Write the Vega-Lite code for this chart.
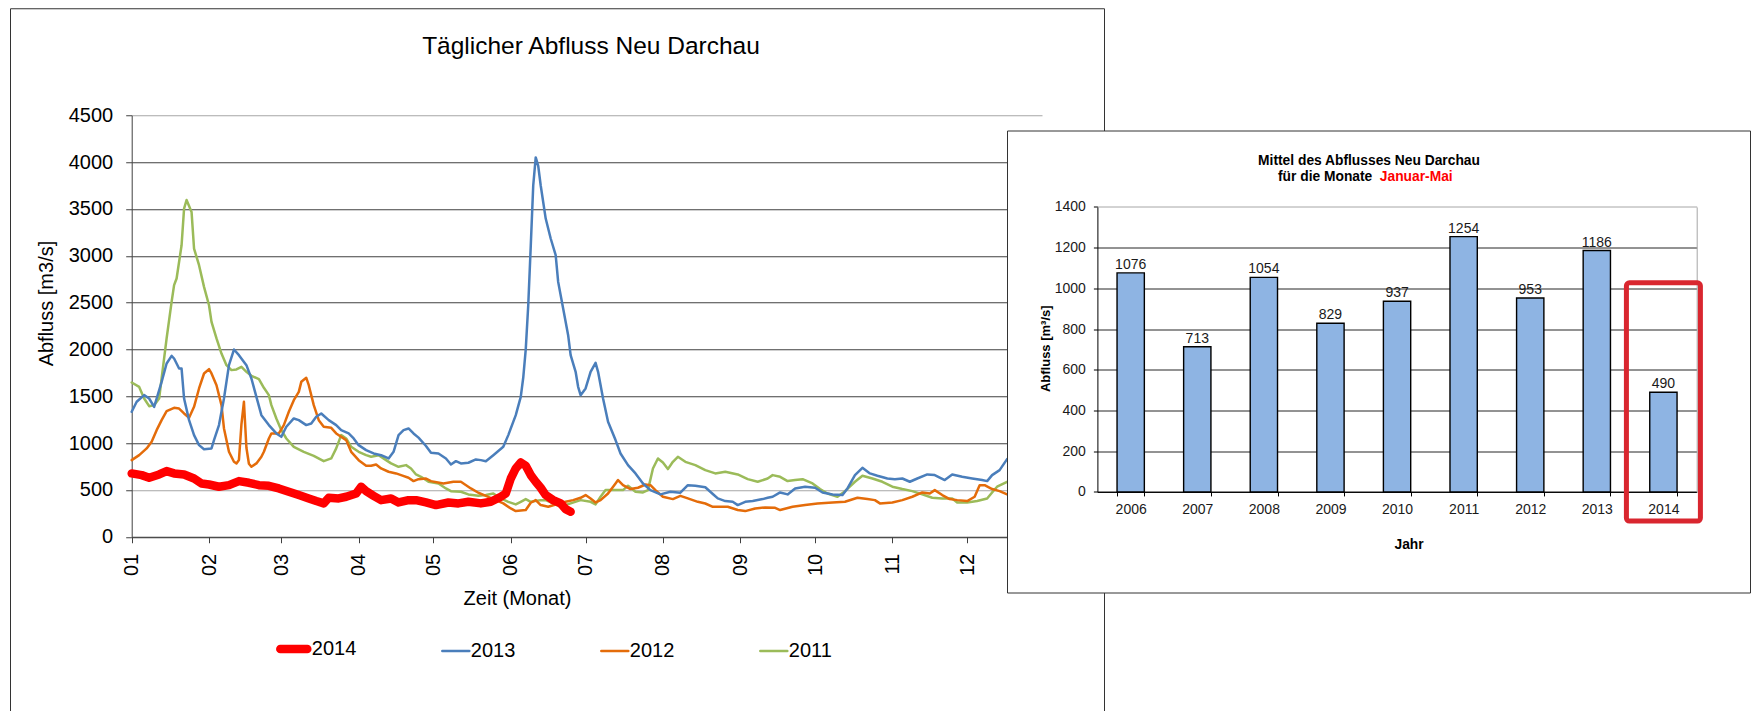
{
  "$schema": "https://vega.github.io/schema/vega-lite/v6.json",
  "background": "white",
  "padding": {"left": 9, "top": 7, "right": 0, "bottom": -4},
  "spacing": -97,
  "bounds": "flush",
  "align": {"row": "each", "column": "none"},
  "center": true,
  "config": {
    "font": "Liberation Sans",
    "view": {"stroke": "#333333", "strokeWidth": 1, "fill": "white"},
    "axis": {"labelColor": "#000000", "titleColor": "#000000", "labelOverlap": false, "labelFlush": false}
  },
  "datasets": {
    "abfluss": [
      {"Jahr":"2011","Tag":1,"Abfluss":1647},{"Jahr":"2011","Tag":4,"Abfluss":1600},{"Jahr":"2011","Tag":6,"Abfluss":1476},{"Jahr":"2011","Tag":8,"Abfluss":1394},{"Jahr":"2011","Tag":10,"Abfluss":1405},{"Jahr":"2011","Tag":12,"Abfluss":1476},{"Jahr":"2011","Tag":13,"Abfluss":1690},{"Jahr":"2011","Tag":15,"Abfluss":2117},{"Jahr":"2011","Tag":17,"Abfluss":2508},{"Jahr":"2011","Tag":18,"Abfluss":2686},{"Jahr":"2011","Tag":19,"Abfluss":2757},{"Jahr":"2011","Tag":21,"Abfluss":3112},{"Jahr":"2011","Tag":22,"Abfluss":3504},{"Jahr":"2011","Tag":23,"Abfluss":3595},{"Jahr":"2011","Tag":25,"Abfluss":3468},{"Jahr":"2011","Tag":26,"Abfluss":3077},{"Jahr":"2011","Tag":28,"Abfluss":2899},{"Jahr":"2011","Tag":30,"Abfluss":2668},{"Jahr":"2011","Tag":32,"Abfluss":2472},{"Jahr":"2011","Tag":33,"Abfluss":2294},{"Jahr":"2011","Tag":35,"Abfluss":2117},{"Jahr":"2011","Tag":37,"Abfluss":1956},{"Jahr":"2011","Tag":39,"Abfluss":1832},{"Jahr":"2011","Tag":41,"Abfluss":1779},{"Jahr":"2011","Tag":43,"Abfluss":1786},{"Jahr":"2011","Tag":45,"Abfluss":1814},{"Jahr":"2011","Tag":47,"Abfluss":1761},{"Jahr":"2011","Tag":49,"Abfluss":1718},{"Jahr":"2011","Tag":52,"Abfluss":1683},{"Jahr":"2011","Tag":54,"Abfluss":1590},{"Jahr":"2011","Tag":56,"Abfluss":1512},{"Jahr":"2011","Tag":57,"Abfluss":1405},{"Jahr":"2011","Tag":59,"Abfluss":1263},{"Jahr":"2011","Tag":61,"Abfluss":1138},{"Jahr":"2011","Tag":63,"Abfluss":1049},{"Jahr":"2011","Tag":66,"Abfluss":960},{"Jahr":"2011","Tag":70,"Abfluss":907},{"Jahr":"2011","Tag":74,"Abfluss":864},{"Jahr":"2011","Tag":78,"Abfluss":807},{"Jahr":"2011","Tag":81,"Abfluss":836},{"Jahr":"2011","Tag":83,"Abfluss":943},{"Jahr":"2011","Tag":85,"Abfluss":1085},{"Jahr":"2011","Tag":87,"Abfluss":1049},{"Jahr":"2011","Tag":89,"Abfluss":960},{"Jahr":"2011","Tag":92,"Abfluss":907},{"Jahr":"2011","Tag":95,"Abfluss":871},{"Jahr":"2011","Tag":97,"Abfluss":854},{"Jahr":"2011","Tag":100,"Abfluss":871},{"Jahr":"2011","Tag":103,"Abfluss":818},{"Jahr":"2011","Tag":105,"Abfluss":783},{"Jahr":"2011","Tag":108,"Abfluss":747},{"Jahr":"2011","Tag":111,"Abfluss":765},{"Jahr":"2011","Tag":113,"Abfluss":729},{"Jahr":"2011","Tag":115,"Abfluss":665},{"Jahr":"2011","Tag":117,"Abfluss":640},{"Jahr":"2011","Tag":120,"Abfluss":587},{"Jahr":"2011","Tag":124,"Abfluss":569},{"Jahr":"2011","Tag":127,"Abfluss":516},{"Jahr":"2011","Tag":129,"Abfluss":487},{"Jahr":"2011","Tag":133,"Abfluss":480},{"Jahr":"2011","Tag":136,"Abfluss":452},{"Jahr":"2011","Tag":140,"Abfluss":437},{"Jahr":"2011","Tag":143,"Abfluss":445},{"Jahr":"2011","Tag":146,"Abfluss":462},{"Jahr":"2011","Tag":149,"Abfluss":409},{"Jahr":"2011","Tag":152,"Abfluss":373},{"Jahr":"2011","Tag":155,"Abfluss":345},{"Jahr":"2011","Tag":157,"Abfluss":373},{"Jahr":"2011","Tag":159,"Abfluss":402},{"Jahr":"2011","Tag":161,"Abfluss":373},{"Jahr":"2011","Tag":165,"Abfluss":391},{"Jahr":"2011","Tag":167,"Abfluss":391},{"Jahr":"2011","Tag":170,"Abfluss":356},{"Jahr":"2011","Tag":173,"Abfluss":320},{"Jahr":"2011","Tag":177,"Abfluss":356},{"Jahr":"2011","Tag":181,"Abfluss":391},{"Jahr":"2011","Tag":185,"Abfluss":373},{"Jahr":"2011","Tag":187,"Abfluss":345},{"Jahr":"2011","Tag":189,"Abfluss":427},{"Jahr":"2011","Tag":191,"Abfluss":498},{"Jahr":"2011","Tag":195,"Abfluss":498},{"Jahr":"2011","Tag":198,"Abfluss":498},{"Jahr":"2011","Tag":200,"Abfluss":544},{"Jahr":"2011","Tag":203,"Abfluss":480},{"Jahr":"2011","Tag":206,"Abfluss":473},{"Jahr":"2011","Tag":208,"Abfluss":498},{"Jahr":"2011","Tag":210,"Abfluss":729},{"Jahr":"2011","Tag":212,"Abfluss":836},{"Jahr":"2011","Tag":214,"Abfluss":793},{"Jahr":"2011","Tag":216,"Abfluss":722},{"Jahr":"2011","Tag":218,"Abfluss":800},{"Jahr":"2011","Tag":220,"Abfluss":854},{"Jahr":"2011","Tag":223,"Abfluss":800},{"Jahr":"2011","Tag":227,"Abfluss":765},{"Jahr":"2011","Tag":231,"Abfluss":711},{"Jahr":"2011","Tag":235,"Abfluss":676},{"Jahr":"2011","Tag":239,"Abfluss":694},{"Jahr":"2011","Tag":244,"Abfluss":665},{"Jahr":"2011","Tag":248,"Abfluss":615},{"Jahr":"2011","Tag":252,"Abfluss":587},{"Jahr":"2011","Tag":256,"Abfluss":622},{"Jahr":"2011","Tag":258,"Abfluss":658},{"Jahr":"2011","Tag":261,"Abfluss":640},{"Jahr":"2011","Tag":264,"Abfluss":594},{"Jahr":"2011","Tag":267,"Abfluss":605},{"Jahr":"2011","Tag":270,"Abfluss":615},{"Jahr":"2011","Tag":274,"Abfluss":569},{"Jahr":"2011","Tag":277,"Abfluss":509},{"Jahr":"2011","Tag":280,"Abfluss":462},{"Jahr":"2011","Tag":284,"Abfluss":427},{"Jahr":"2011","Tag":287,"Abfluss":487},{"Jahr":"2011","Tag":291,"Abfluss":587},{"Jahr":"2011","Tag":294,"Abfluss":651},{"Jahr":"2011","Tag":298,"Abfluss":622},{"Jahr":"2011","Tag":302,"Abfluss":587},{"Jahr":"2011","Tag":306,"Abfluss":534},{"Jahr":"2011","Tag":310,"Abfluss":509},{"Jahr":"2011","Tag":314,"Abfluss":487},{"Jahr":"2011","Tag":318,"Abfluss":452},{"Jahr":"2011","Tag":322,"Abfluss":416},{"Jahr":"2011","Tag":326,"Abfluss":409},{"Jahr":"2011","Tag":330,"Abfluss":409},{"Jahr":"2011","Tag":332,"Abfluss":366},{"Jahr":"2011","Tag":336,"Abfluss":366},{"Jahr":"2011","Tag":340,"Abfluss":381},{"Jahr":"2011","Tag":344,"Abfluss":409},{"Jahr":"2011","Tag":346,"Abfluss":473},{"Jahr":"2011","Tag":348,"Abfluss":534},{"Jahr":"2011","Tag":352,"Abfluss":587},
      {"Jahr":"2012","Tag":1,"Abfluss":818},{"Jahr":"2012","Tag":4,"Abfluss":871},{"Jahr":"2012","Tag":7,"Abfluss":943},{"Jahr":"2012","Tag":9,"Abfluss":1014},{"Jahr":"2012","Tag":11,"Abfluss":1138},{"Jahr":"2012","Tag":13,"Abfluss":1245},{"Jahr":"2012","Tag":15,"Abfluss":1341},{"Jahr":"2012","Tag":18,"Abfluss":1377},{"Jahr":"2012","Tag":20,"Abfluss":1369},{"Jahr":"2012","Tag":22,"Abfluss":1316},{"Jahr":"2012","Tag":24,"Abfluss":1270},{"Jahr":"2012","Tag":26,"Abfluss":1387},{"Jahr":"2012","Tag":28,"Abfluss":1583},{"Jahr":"2012","Tag":30,"Abfluss":1743},{"Jahr":"2012","Tag":32,"Abfluss":1789},{"Jahr":"2012","Tag":33,"Abfluss":1743},{"Jahr":"2012","Tag":35,"Abfluss":1618},{"Jahr":"2012","Tag":37,"Abfluss":1405},{"Jahr":"2012","Tag":38,"Abfluss":1156},{"Jahr":"2012","Tag":40,"Abfluss":907},{"Jahr":"2012","Tag":42,"Abfluss":800},{"Jahr":"2012","Tag":43,"Abfluss":783},{"Jahr":"2012","Tag":44,"Abfluss":820},{"Jahr":"2012","Tag":45,"Abfluss":1200},{"Jahr":"2012","Tag":46,"Abfluss":1441},{"Jahr":"2012","Tag":47,"Abfluss":950},{"Jahr":"2012","Tag":48,"Abfluss":780},{"Jahr":"2012","Tag":49,"Abfluss":747},{"Jahr":"2012","Tag":51,"Abfluss":783},{"Jahr":"2012","Tag":53,"Abfluss":854},{"Jahr":"2012","Tag":54,"Abfluss":907},{"Jahr":"2012","Tag":56,"Abfluss":1049},{"Jahr":"2012","Tag":57,"Abfluss":1103},{"Jahr":"2012","Tag":60,"Abfluss":1103},{"Jahr":"2012","Tag":62,"Abfluss":1192},{"Jahr":"2012","Tag":64,"Abfluss":1334},{"Jahr":"2012","Tag":66,"Abfluss":1458},{"Jahr":"2012","Tag":68,"Abfluss":1547},{"Jahr":"2012","Tag":69,"Abfluss":1654},{"Jahr":"2012","Tag":71,"Abfluss":1697},{"Jahr":"2012","Tag":72,"Abfluss":1618},{"Jahr":"2012","Tag":74,"Abfluss":1405},{"Jahr":"2012","Tag":76,"Abfluss":1245},{"Jahr":"2012","Tag":78,"Abfluss":1174},{"Jahr":"2012","Tag":81,"Abfluss":1163},{"Jahr":"2012","Tag":83,"Abfluss":1103},{"Jahr":"2012","Tag":87,"Abfluss":1032},{"Jahr":"2012","Tag":89,"Abfluss":907},{"Jahr":"2012","Tag":92,"Abfluss":818},{"Jahr":"2012","Tag":95,"Abfluss":758},{"Jahr":"2012","Tag":97,"Abfluss":758},{"Jahr":"2012","Tag":99,"Abfluss":772},{"Jahr":"2012","Tag":101,"Abfluss":729},{"Jahr":"2012","Tag":104,"Abfluss":694},{"Jahr":"2012","Tag":107,"Abfluss":676},{"Jahr":"2012","Tag":109,"Abfluss":658},{"Jahr":"2012","Tag":112,"Abfluss":630},{"Jahr":"2012","Tag":114,"Abfluss":594},{"Jahr":"2012","Tag":116,"Abfluss":615},{"Jahr":"2012","Tag":119,"Abfluss":622},{"Jahr":"2012","Tag":121,"Abfluss":594},{"Jahr":"2012","Tag":126,"Abfluss":569},{"Jahr":"2012","Tag":130,"Abfluss":587},{"Jahr":"2012","Tag":133,"Abfluss":587},{"Jahr":"2012","Tag":137,"Abfluss":516},{"Jahr":"2012","Tag":140,"Abfluss":470},{"Jahr":"2012","Tag":143,"Abfluss":437},{"Jahr":"2012","Tag":147,"Abfluss":391},{"Jahr":"2012","Tag":150,"Abfluss":356},{"Jahr":"2012","Tag":153,"Abfluss":302},{"Jahr":"2012","Tag":155,"Abfluss":274},{"Jahr":"2012","Tag":159,"Abfluss":285},{"Jahr":"2012","Tag":161,"Abfluss":363},{"Jahr":"2012","Tag":163,"Abfluss":391},{"Jahr":"2012","Tag":165,"Abfluss":338},{"Jahr":"2012","Tag":168,"Abfluss":320},{"Jahr":"2012","Tag":171,"Abfluss":345},{"Jahr":"2012","Tag":175,"Abfluss":373},{"Jahr":"2012","Tag":178,"Abfluss":391},{"Jahr":"2012","Tag":181,"Abfluss":416},{"Jahr":"2012","Tag":183,"Abfluss":445},{"Jahr":"2012","Tag":185,"Abfluss":409},{"Jahr":"2012","Tag":187,"Abfluss":366},{"Jahr":"2012","Tag":189,"Abfluss":391},{"Jahr":"2012","Tag":192,"Abfluss":462},{"Jahr":"2012","Tag":195,"Abfluss":569},{"Jahr":"2012","Tag":196,"Abfluss":605},{"Jahr":"2012","Tag":198,"Abfluss":551},{"Jahr":"2012","Tag":201,"Abfluss":509},{"Jahr":"2012","Tag":204,"Abfluss":523},{"Jahr":"2012","Tag":207,"Abfluss":558},{"Jahr":"2012","Tag":209,"Abfluss":551},{"Jahr":"2012","Tag":211,"Abfluss":498},{"Jahr":"2012","Tag":214,"Abfluss":427},{"Jahr":"2012","Tag":218,"Abfluss":402},{"Jahr":"2012","Tag":221,"Abfluss":437},{"Jahr":"2012","Tag":224,"Abfluss":409},{"Jahr":"2012","Tag":228,"Abfluss":373},{"Jahr":"2012","Tag":231,"Abfluss":355},{"Jahr":"2012","Tag":234,"Abfluss":320},{"Jahr":"2012","Tag":237,"Abfluss":320},{"Jahr":"2012","Tag":240,"Abfluss":320},{"Jahr":"2012","Tag":244,"Abfluss":285},{"Jahr":"2012","Tag":247,"Abfluss":274},{"Jahr":"2012","Tag":251,"Abfluss":302},{"Jahr":"2012","Tag":255,"Abfluss":313},{"Jahr":"2012","Tag":259,"Abfluss":309},{"Jahr":"2012","Tag":261,"Abfluss":285},{"Jahr":"2012","Tag":266,"Abfluss":320},{"Jahr":"2012","Tag":271,"Abfluss":338},{"Jahr":"2012","Tag":276,"Abfluss":356},{"Jahr":"2012","Tag":282,"Abfluss":366},{"Jahr":"2012","Tag":287,"Abfluss":373},{"Jahr":"2012","Tag":292,"Abfluss":416},{"Jahr":"2012","Tag":296,"Abfluss":402},{"Jahr":"2012","Tag":299,"Abfluss":391},{"Jahr":"2012","Tag":301,"Abfluss":356},{"Jahr":"2012","Tag":306,"Abfluss":366},{"Jahr":"2012","Tag":310,"Abfluss":391},{"Jahr":"2012","Tag":314,"Abfluss":427},{"Jahr":"2012","Tag":318,"Abfluss":473},{"Jahr":"2012","Tag":321,"Abfluss":462},{"Jahr":"2012","Tag":323,"Abfluss":498},{"Jahr":"2012","Tag":326,"Abfluss":445},{"Jahr":"2012","Tag":329,"Abfluss":402},{"Jahr":"2012","Tag":332,"Abfluss":391},{"Jahr":"2012","Tag":336,"Abfluss":381},{"Jahr":"2012","Tag":339,"Abfluss":427},{"Jahr":"2012","Tag":341,"Abfluss":551},{"Jahr":"2012","Tag":343,"Abfluss":551},{"Jahr":"2012","Tag":346,"Abfluss":509},{"Jahr":"2012","Tag":349,"Abfluss":487},{"Jahr":"2012","Tag":352,"Abfluss":452},
      {"Jahr":"2013","Tag":1,"Abfluss":1334},{"Jahr":"2013","Tag":3,"Abfluss":1441},{"Jahr":"2013","Tag":6,"Abfluss":1512},{"Jahr":"2013","Tag":8,"Abfluss":1476},{"Jahr":"2013","Tag":10,"Abfluss":1387},{"Jahr":"2013","Tag":11,"Abfluss":1476},{"Jahr":"2013","Tag":13,"Abfluss":1654},{"Jahr":"2013","Tag":15,"Abfluss":1850},{"Jahr":"2013","Tag":17,"Abfluss":1931},{"Jahr":"2013","Tag":18,"Abfluss":1903},{"Jahr":"2013","Tag":20,"Abfluss":1796},{"Jahr":"2013","Tag":21,"Abfluss":1796},{"Jahr":"2013","Tag":22,"Abfluss":1476},{"Jahr":"2013","Tag":24,"Abfluss":1245},{"Jahr":"2013","Tag":26,"Abfluss":1085},{"Jahr":"2013","Tag":28,"Abfluss":978},{"Jahr":"2013","Tag":30,"Abfluss":935},{"Jahr":"2013","Tag":33,"Abfluss":943},{"Jahr":"2013","Tag":34,"Abfluss":1032},{"Jahr":"2013","Tag":36,"Abfluss":1192},{"Jahr":"2013","Tag":38,"Abfluss":1476},{"Jahr":"2013","Tag":40,"Abfluss":1832},{"Jahr":"2013","Tag":42,"Abfluss":1999},{"Jahr":"2013","Tag":44,"Abfluss":1939},{"Jahr":"2013","Tag":47,"Abfluss":1832},{"Jahr":"2013","Tag":49,"Abfluss":1690},{"Jahr":"2013","Tag":51,"Abfluss":1494},{"Jahr":"2013","Tag":53,"Abfluss":1298},{"Jahr":"2013","Tag":56,"Abfluss":1192},{"Jahr":"2013","Tag":59,"Abfluss":1103},{"Jahr":"2013","Tag":61,"Abfluss":1067},{"Jahr":"2013","Tag":63,"Abfluss":1174},{"Jahr":"2013","Tag":66,"Abfluss":1263},{"Jahr":"2013","Tag":68,"Abfluss":1245},{"Jahr":"2013","Tag":71,"Abfluss":1192},{"Jahr":"2013","Tag":73,"Abfluss":1209},{"Jahr":"2013","Tag":75,"Abfluss":1281},{"Jahr":"2013","Tag":77,"Abfluss":1316},{"Jahr":"2013","Tag":80,"Abfluss":1245},{"Jahr":"2013","Tag":83,"Abfluss":1192},{"Jahr":"2013","Tag":85,"Abfluss":1138},{"Jahr":"2013","Tag":88,"Abfluss":1103},{"Jahr":"2013","Tag":90,"Abfluss":1049},{"Jahr":"2013","Tag":92,"Abfluss":978},{"Jahr":"2013","Tag":95,"Abfluss":925},{"Jahr":"2013","Tag":98,"Abfluss":889},{"Jahr":"2013","Tag":101,"Abfluss":871},{"Jahr":"2013","Tag":104,"Abfluss":836},{"Jahr":"2013","Tag":106,"Abfluss":907},{"Jahr":"2013","Tag":108,"Abfluss":1085},{"Jahr":"2013","Tag":110,"Abfluss":1138},{"Jahr":"2013","Tag":112,"Abfluss":1156},{"Jahr":"2013","Tag":114,"Abfluss":1103},{"Jahr":"2013","Tag":116,"Abfluss":1058},{"Jahr":"2013","Tag":119,"Abfluss":969},{"Jahr":"2013","Tag":121,"Abfluss":896},{"Jahr":"2013","Tag":124,"Abfluss":889},{"Jahr":"2013","Tag":127,"Abfluss":836},{"Jahr":"2013","Tag":129,"Abfluss":772},{"Jahr":"2013","Tag":131,"Abfluss":807},{"Jahr":"2013","Tag":133,"Abfluss":783},{"Jahr":"2013","Tag":136,"Abfluss":790},{"Jahr":"2013","Tag":139,"Abfluss":825},{"Jahr":"2013","Tag":141,"Abfluss":818},{"Jahr":"2013","Tag":143,"Abfluss":807},{"Jahr":"2013","Tag":146,"Abfluss":871},{"Jahr":"2013","Tag":150,"Abfluss":960},{"Jahr":"2013","Tag":152,"Abfluss":1085},{"Jahr":"2013","Tag":155,"Abfluss":1298},{"Jahr":"2013","Tag":157,"Abfluss":1494},{"Jahr":"2013","Tag":158,"Abfluss":1700},{"Jahr":"2013","Tag":159,"Abfluss":2000},{"Jahr":"2013","Tag":160,"Abfluss":2472},{"Jahr":"2013","Tag":161,"Abfluss":3100},{"Jahr":"2013","Tag":162,"Abfluss":3750},{"Jahr":"2013","Tag":163,"Abfluss":4050},{"Jahr":"2013","Tag":164,"Abfluss":3960},{"Jahr":"2013","Tag":165,"Abfluss":3750},{"Jahr":"2013","Tag":167,"Abfluss":3397},{"Jahr":"2013","Tag":169,"Abfluss":3184},{"Jahr":"2013","Tag":171,"Abfluss":3006},{"Jahr":"2013","Tag":172,"Abfluss":2721},{"Jahr":"2013","Tag":174,"Abfluss":2437},{"Jahr":"2013","Tag":176,"Abfluss":2152},{"Jahr":"2013","Tag":177,"Abfluss":1939},{"Jahr":"2013","Tag":179,"Abfluss":1761},{"Jahr":"2013","Tag":180,"Abfluss":1601},{"Jahr":"2013","Tag":181,"Abfluss":1512},{"Jahr":"2013","Tag":183,"Abfluss":1583},{"Jahr":"2013","Tag":185,"Abfluss":1761},{"Jahr":"2013","Tag":187,"Abfluss":1857},{"Jahr":"2013","Tag":188,"Abfluss":1761},{"Jahr":"2013","Tag":190,"Abfluss":1476},{"Jahr":"2013","Tag":192,"Abfluss":1227},{"Jahr":"2013","Tag":195,"Abfluss":1032},{"Jahr":"2013","Tag":197,"Abfluss":889},{"Jahr":"2013","Tag":200,"Abfluss":765},{"Jahr":"2013","Tag":203,"Abfluss":676},{"Jahr":"2013","Tag":206,"Abfluss":569},{"Jahr":"2013","Tag":209,"Abfluss":498},{"Jahr":"2013","Tag":213,"Abfluss":452},{"Jahr":"2013","Tag":217,"Abfluss":480},{"Jahr":"2013","Tag":221,"Abfluss":470},{"Jahr":"2013","Tag":224,"Abfluss":551},{"Jahr":"2013","Tag":227,"Abfluss":544},{"Jahr":"2013","Tag":231,"Abfluss":528},{"Jahr":"2013","Tag":234,"Abfluss":457},{"Jahr":"2013","Tag":236,"Abfluss":409},{"Jahr":"2013","Tag":239,"Abfluss":381},{"Jahr":"2013","Tag":242,"Abfluss":373},{"Jahr":"2013","Tag":244,"Abfluss":338},{"Jahr":"2013","Tag":247,"Abfluss":373},{"Jahr":"2013","Tag":250,"Abfluss":381},{"Jahr":"2013","Tag":254,"Abfluss":402},{"Jahr":"2013","Tag":256,"Abfluss":416},{"Jahr":"2013","Tag":258,"Abfluss":427},{"Jahr":"2013","Tag":261,"Abfluss":473},{"Jahr":"2013","Tag":264,"Abfluss":452},{"Jahr":"2013","Tag":267,"Abfluss":516},{"Jahr":"2013","Tag":271,"Abfluss":534},{"Jahr":"2013","Tag":275,"Abfluss":523},{"Jahr":"2013","Tag":278,"Abfluss":473},{"Jahr":"2013","Tag":282,"Abfluss":452},{"Jahr":"2013","Tag":286,"Abfluss":445},{"Jahr":"2013","Tag":288,"Abfluss":516},{"Jahr":"2013","Tag":291,"Abfluss":658},{"Jahr":"2013","Tag":294,"Abfluss":736},{"Jahr":"2013","Tag":297,"Abfluss":676},{"Jahr":"2013","Tag":300,"Abfluss":651},{"Jahr":"2013","Tag":304,"Abfluss":622},{"Jahr":"2013","Tag":307,"Abfluss":615},{"Jahr":"2013","Tag":310,"Abfluss":622},{"Jahr":"2013","Tag":313,"Abfluss":587},{"Jahr":"2013","Tag":316,"Abfluss":622},{"Jahr":"2013","Tag":320,"Abfluss":665},{"Jahr":"2013","Tag":323,"Abfluss":658},{"Jahr":"2013","Tag":327,"Abfluss":605},{"Jahr":"2013","Tag":330,"Abfluss":665},{"Jahr":"2013","Tag":334,"Abfluss":640},{"Jahr":"2013","Tag":338,"Abfluss":622},{"Jahr":"2013","Tag":342,"Abfluss":605},{"Jahr":"2013","Tag":344,"Abfluss":594},{"Jahr":"2013","Tag":346,"Abfluss":658},{"Jahr":"2013","Tag":349,"Abfluss":711},{"Jahr":"2013","Tag":352,"Abfluss":829},
      {"Jahr":"2014","Tag":1,"Abfluss":676},{"Jahr":"2014","Tag":5,"Abfluss":658},{"Jahr":"2014","Tag":8,"Abfluss":630},{"Jahr":"2014","Tag":12,"Abfluss":665},{"Jahr":"2014","Tag":15,"Abfluss":701},{"Jahr":"2014","Tag":18,"Abfluss":676},{"Jahr":"2014","Tag":22,"Abfluss":665},{"Jahr":"2014","Tag":26,"Abfluss":622},{"Jahr":"2014","Tag":29,"Abfluss":569},{"Jahr":"2014","Tag":32,"Abfluss":558},{"Jahr":"2014","Tag":36,"Abfluss":534},{"Jahr":"2014","Tag":40,"Abfluss":551},{"Jahr":"2014","Tag":44,"Abfluss":594},{"Jahr":"2014","Tag":48,"Abfluss":576},{"Jahr":"2014","Tag":52,"Abfluss":551},{"Jahr":"2014","Tag":56,"Abfluss":544},{"Jahr":"2014","Tag":60,"Abfluss":516},{"Jahr":"2014","Tag":64,"Abfluss":480},{"Jahr":"2014","Tag":68,"Abfluss":445},{"Jahr":"2014","Tag":72,"Abfluss":409},{"Jahr":"2014","Tag":75,"Abfluss":381},{"Jahr":"2014","Tag":78,"Abfluss":356},{"Jahr":"2014","Tag":80,"Abfluss":416},{"Jahr":"2014","Tag":84,"Abfluss":409},{"Jahr":"2014","Tag":87,"Abfluss":427},{"Jahr":"2014","Tag":91,"Abfluss":462},{"Jahr":"2014","Tag":93,"Abfluss":534},{"Jahr":"2014","Tag":95,"Abfluss":487},{"Jahr":"2014","Tag":98,"Abfluss":437},{"Jahr":"2014","Tag":101,"Abfluss":391},{"Jahr":"2014","Tag":105,"Abfluss":409},{"Jahr":"2014","Tag":108,"Abfluss":366},{"Jahr":"2014","Tag":112,"Abfluss":391},{"Jahr":"2014","Tag":115,"Abfluss":391},{"Jahr":"2014","Tag":119,"Abfluss":366},{"Jahr":"2014","Tag":123,"Abfluss":338},{"Jahr":"2014","Tag":128,"Abfluss":366},{"Jahr":"2014","Tag":132,"Abfluss":356},{"Jahr":"2014","Tag":136,"Abfluss":373},{"Jahr":"2014","Tag":141,"Abfluss":356},{"Jahr":"2014","Tag":145,"Abfluss":373},{"Jahr":"2014","Tag":149,"Abfluss":427},{"Jahr":"2014","Tag":151,"Abfluss":462},{"Jahr":"2014","Tag":153,"Abfluss":622},{"Jahr":"2014","Tag":155,"Abfluss":729},{"Jahr":"2014","Tag":157,"Abfluss":793},{"Jahr":"2014","Tag":159,"Abfluss":758},{"Jahr":"2014","Tag":161,"Abfluss":658},{"Jahr":"2014","Tag":163,"Abfluss":587},{"Jahr":"2014","Tag":165,"Abfluss":523},{"Jahr":"2014","Tag":167,"Abfluss":445},{"Jahr":"2014","Tag":170,"Abfluss":391},{"Jahr":"2014","Tag":173,"Abfluss":356},{"Jahr":"2014","Tag":175,"Abfluss":295},{"Jahr":"2014","Tag":177,"Abfluss":267}
    ],
    "mittel": [
      {"Jahr":"2006","Abfluss":1076,"Monate":"Januar-Mai"},
      {"Jahr":"2007","Abfluss":713,"Monate":"Januar-Mai"},
      {"Jahr":"2008","Abfluss":1054,"Monate":"Januar-Mai"},
      {"Jahr":"2009","Abfluss":829,"Monate":"Januar-Mai"},
      {"Jahr":"2010","Abfluss":937,"Monate":"Januar-Mai"},
      {"Jahr":"2011","Abfluss":1254,"Monate":"Januar-Mai"},
      {"Jahr":"2012","Abfluss":953,"Monate":"Januar-Mai"},
      {"Jahr":"2013","Abfluss":1186,"Monate":"Januar-Mai"},
      {"Jahr":"2014","Abfluss":490,"Monate":"Januar-Mai"}
    ]
  },
  "hconcat": [
    {
      "width": 1094,
      "height": 706.5,
      "title": {"text": "Täglicher Abfluss Neu Darchau", "fontSize": 24.5, "fontWeight": "normal", "color": "#000000", "anchor": "middle", "frame": "group", "offset": -39.5, "baseline": "middle", "dx": 34, "dy": 23.8},
      "data": {"name": "abfluss"},
      "mark": {"type": "line", "strokeCap": "round", "strokeJoin": "round"},
      "encoding": {
        "x": {
          "field": "Tag", "type": "quantitative",
          "scale": {"domain": [1, 366], "range": [121.7, 1032], "nice": false, "zero": false},
          "axis": {
            "orient": "bottom", "offset": -178,
            "values": [1, 32, 61, 92, 122, 153, 183, 214, 245, 275, 306, 336],
            "labelExpr": "timeFormat(datetime(2012, 0, datum.value), '%m')",
            "labelAngle": -90, "labelFontSize": 20, "labelPadding": 10.5,
            "tickSize": 6, "tickColor": "#404040", "domainColor": "#404040", "grid": false,
            "title": "Zeit (Monat)", "titleFontSize": 20, "titleFontWeight": "normal",
            "titleX": 507, "titleY": 61.5, "titleBaseline": "middle", "titleAlign": "center"
          }
        },
        "y": {
          "field": "Abfluss", "type": "quantitative",
          "scale": {"domain": [0, 4500], "range": [528.5, 107], "nice": false},
          "axis": {
            "orient": "left", "offset": -121.7, "format": "d",
            "values": [0, 500, 1000, 1500, 2000, 2500, 3000, 3500, 4000, 4500],
            "labelFontSize": 20, "labelPadding": 13, "tickSize": 6,
            "tickColor": "#404040", "domainColor": "#404040",
            "grid": true, "gridWidth": 1,
            "gridColor": {"condition": {"test": "datum.value === 500 || datum.value === 4500", "value": "#a6a6a6"}, "value": "#404040"},
            "title": "Abfluss [m3/s]", "titleFontSize": 20, "titleFontWeight": "normal",
            "titleX": -85.7, "titleY": 294.8, "titleBaseline": "middle", "titleAlign": "center"
          }
        },
        "color": {
          "field": "Jahr", "type": "nominal",
          "scale": {"domain": ["2014", "2013", "2012", "2011"], "range": ["#ff0000", "#4a7ebb", "#e46c0a", "#9bbb59"]},
          "legend": {"title": null, "orient": "none", "legendX": 265.8, "legendY": 623, "direction": "horizontal", "labelFontSize": 20, "labelColor": "#000000", "labelOffset": 0, "columnPadding": 80, "symbolType": "stroke", "symbolSize": 729, "padding": 0, "encode": {"symbols": {"update": {"strokeCap": {"value": "round"}}}}}
        },
        "strokeWidth": {
          "field": "Jahr", "type": "nominal",
          "scale": {"type": "ordinal", "domain": ["2014", "2013", "2012", "2011"], "range": [8.5, 2.5, 2.5, 2.5]},
          "legend": {"title": null, "orient": "none", "legendX": 265.8, "legendY": 623, "direction": "horizontal", "labelFontSize": 20, "labelColor": "#000000", "labelOffset": 0, "columnPadding": 80, "symbolType": "stroke", "symbolSize": 729, "padding": 0, "encode": {"symbols": {"update": {"strokeCap": {"value": "round"}}}}}
        }
      }
    },
    {
      "width": 743,
      "height": 462,
      "title": {"text": "Mittel des Abflusses  Neu Darchau", "fontSize": 13.8, "fontWeight": "bold", "color": "#000000", "anchor": "middle", "frame": "group", "offset": -29.15, "baseline": "middle", "dx": -9.5, "dy": 15.45},
      "data": {"name": "mittel"},
      "layer": [
        {
          "mark": {"type": "bar", "stroke": "#000000", "strokeWidth": 1.4},
          "encoding": {
            "x": {
              "field": "Jahr", "type": "nominal",
              "scale": {"type": "band", "range": [90.4, 689.7], "paddingInner": 0.59, "paddingOuter": 0.295},
              "axis": {
                "orient": "bottom", "offset": -100.55, "tickBand": "extent", "tickSize": 4,
                "labelPadding": 7, "labelFontSize": 14, "labelAngle": 0, "labelColor": "#1a1a1a",
                "domainColor": "#000000", "tickColor": "#000000", "grid": false,
                "title": "Jahr", "titleFontSize": 13.8, "titleFontWeight": "bold",
                "titleX": 401.6, "titleY": 52.3, "titleBaseline": "middle", "titleAlign": "center"
              }
            },
            "y": {
              "field": "Abfluss", "type": "quantitative",
              "scale": {"domain": [0, 1400], "range": [361.45, 76.45], "nice": false},
              "axis": {
                "orient": "left", "offset": -90.4, "format": "d",
                "values": [0, 200, 400, 600, 800, 1000, 1200, 1400],
                "tickSize": 4, "labelPadding": 8, "labelFontSize": 14, "labelColor": "#1a1a1a",
                "tickColor": "#000000", "domainColor": "#000000",
                "grid": true, "gridWidth": 1,
                "gridColor": {"condition": {"test": "datum.value === 1400", "value": "#a6a6a6"}, "value": "#262626"},
                "title": "Abfluss  [m³/s]", "titleFontSize": 13, "titleFontWeight": "bold",
                "titleX": -51.8, "titleY": 217.75, "titleBaseline": "middle", "titleAlign": "center"
              }
            },
            "fill": {
              "field": "Monate", "type": "nominal",
              "scale": {"range": ["#8eb4e3"]},
              "legend": {"title": "für die Monate", "orient": "none", "legendX": 1268, "legendY": 162.3, "direction": "horizontal", "titleOrient": "left", "titleFontSize": 13.8, "titleFontWeight": "bold", "titleColor": "#000000", "titlePadding": 9, "labelFontSize": 13.8, "labelFontWeight": "bold", "labelColor": "#ff0000", "labelOffset": -16, "symbolSize": 0, "symbolOpacity": 0, "symbolStrokeWidth": 0, "padding": 0}
            }
          }
        },
        {
          "mark": {"type": "text", "baseline": "alphabetic", "dy": -4, "fontSize": 14, "color": "#1a1a1a"},
          "encoding": {
            "x": {"field": "Jahr", "type": "nominal"},
            "y": {
              "field": "Abfluss", "type": "quantitative",
              "axis": {"orient": "right", "offset": -53.3, "domainColor": "#a6a6a6", "labels": false, "ticks": false, "grid": false, "title": null}
            },
            "text": {"field": "Abfluss", "type": "quantitative"}
          }
        },
        {
          "transform": [{"filter": "datum.Jahr === '2014'"}],
          "mark": {"type": "bar", "filled": false, "stroke": "#d9262f", "strokeWidth": 5, "cornerRadius": 3, "width": {"band": 2.71}},
          "encoding": {
            "x": {"field": "Jahr", "type": "nominal"},
            "y": {"datum": 1027.5, "type": "quantitative", "axis": null},
            "y2": {"datum": -143}
          }
        }
      ],
      "resolve": {"axis": {"y": "independent"}}
    }
  ]
}
